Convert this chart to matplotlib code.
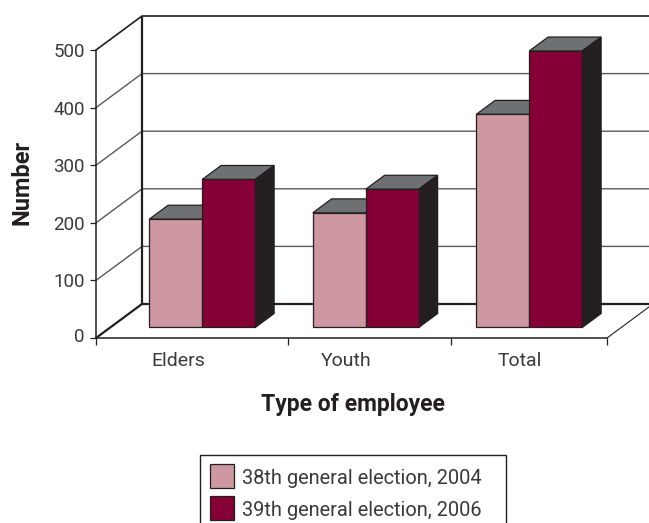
#!/usr/bin/env python3

import matplotlib
matplotlib.use("Agg")
import matplotlib.pyplot as plt
from matplotlib.patches import Rectangle
from matplotlib.transforms import Affine2D

plt.rcParams["font.family"] = ["Roboto", "DejaVu Sans"]

categories = ["Elders", "Youth", "Total"]
series_names = ["38th general election, 2004", "39th general election, 2006"]
values_2004 = [188, 199, 370]
values_2006 = [257, 240, 480]
y_ticks = [0, 100, 200, 300, 400, 500]

FRONT_COLORS = ["#CE98A3", "#850034"]
TOP_COLOR = "#6E7072"
SIDE_COLOR = "#231F20"
LINE_COLOR = "#231F20"
GRID_COLOR = "#58595B"
TEXT_COLOR = "#3A3A3A"

W, H = 649, 523
LEFT, RIGHT, BOTTOM, TOP = 96, 607, 338, 50
PX_PER_CAT = 163.5
PX_PER_UNIT = (BOTTOM - TOP) / 500

# floor depth, in data units
DX = 46 / PX_PER_CAT
DY = 34 / PX_PER_UNIT
BAR_W = 53 / PX_PER_CAT
Z0, Z1 = 0.31, 0.72  # front and back of the bars, as a share of the floor depth


def project(x, y, z):
    return x + z * DX, y + z * DY


def face(ax, pts, color, zorder):
    xs, ys = zip(*[project(*p) for p in pts])
    ax.fill(xs, ys, facecolor=color, edgecolor=LINE_COLOR, linewidth=0.9,
            zorder=zorder, clip_on=False)


def line3d(ax, pts, color=LINE_COLOR, lw=1.0, zorder=1):
    xs, ys = zip(*[project(*p) for p in pts])
    ax.plot(xs, ys, color=color, linewidth=lw, zorder=zorder, clip_on=False,
            solid_capstyle="butt")


def draw_bar(ax, x0, value, color, zorder):
    x1 = x0 + BAR_W
    face(ax, [(x0, value, Z0), (x1, value, Z0), (x1, value, Z1), (x0, value, Z1)], TOP_COLOR, zorder)
    face(ax, [(x1, 0, Z0), (x1, value, Z0), (x1, value, Z1), (x1, 0, Z1)], SIDE_COLOR, zorder)
    ax.bar(project(x0, 0, Z0)[0], value, BAR_W, bottom=Z0 * DY, align="edge",
           color=color, edgecolor=LINE_COLOR, linewidth=0.9, zorder=zorder + 0.5)


def main() -> None:
    fig = plt.figure(figsize=(W / 100, H / 100), dpi=100)
    ax = fig.add_axes([LEFT / W, 1 - BOTTOM / H, (RIGHT - LEFT) / W, (BOTTOM - TOP) / H])

    x_left = (LEFT - 188) / PX_PER_CAT
    x_right = (RIGHT - 188) / PX_PER_CAT
    ax.set_xlim(x_left, x_right)
    ax.set_ylim(0, 500)
    ax.patch.set_visible(False)

    # back wall and floor
    x_far = x_right + 0.1
    for t in y_ticks[1:-1]:
        line3d(ax, [(x_left, t, 0), (x_left, t, 1), (x_far, t, 1)], GRID_COLOR, 1.0)
    line3d(ax, [(x_left, 500, 0), (x_left, 500, 1), (x_far, 500, 1)], LINE_COLOR, 1.2)
    line3d(ax, [(x_left, 0, 0), (x_left, 0, 1), (x_far, 0, 1)], LINE_COLOR, 1.6)
    line3d(ax, [(x_left, 0, 1), (x_left, 500, 1)], LINE_COLOR, 1.6)
    line3d(ax, [(x_right, 0, 0), (x_right, 0, 1)], LINE_COLOR, 0.8)

    for i in range(len(categories)):
        draw_bar(ax, i - BAR_W, values_2004[i], FRONT_COLORS[0], 3)
        draw_bar(ax, i, values_2006[i], FRONT_COLORS[1], 4)

    for side in ["top", "right"]:
        ax.spines[side].set_visible(False)
    for side in ["left", "bottom"]:
        ax.spines[side].set_color(LINE_COLOR)
        ax.spines[side].set_linewidth(1.1)

    ax.set_yticks(y_ticks)
    ax.tick_params(axis="y", length=4, width=0.9, color=LINE_COLOR, pad=4,
                   labelsize=13.5, labelcolor=TEXT_COLOR)
    # the 0 label sits a little above its tick in the original
    zero = ax.get_yticklabels()[0]
    zero.set_transform(zero.get_transform() + Affine2D().translate(0, 3))

    # ticks sit on the category borders, labels between them
    ax.set_xticks([x_left, 0.612, 1.609, x_right])
    ax.set_xticks([-0.06, 0.97, 2.03], labels=categories, minor=True)
    ax.tick_params(axis="x", which="major", length=5, width=0.9, color=LINE_COLOR, labelbottom=False)
    ax.tick_params(axis="x", which="minor", length=0, pad=10, labelsize=14, labelcolor=TEXT_COLOR)

    fig.text(22 / W, 1 - 182 / H, "Number", rotation=90, ha="center", va="center",
             fontsize=17, fontweight="bold", color=LINE_COLOR)
    fig.text(352.5 / W, 1 - 404 / H, "Type of employee", ha="center", va="center",
             fontsize=16.5, fontweight="bold", color=LINE_COLOR)

    # legend box runs off the bottom of the figure
    fig.add_artist(Rectangle((199.5 / W, -0.02), 306 / W, 1 - 454.5 / H + 0.02,
                             transform=fig.transFigure, facecolor="white",
                             edgecolor=LINE_COLOR, linewidth=1.0))
    for i, name in enumerate(series_names):
        top = 464 + i * 32
        fig.add_artist(Rectangle((209.5 / W, 1 - (top + 24) / H), 24 / W, 24 / H,
                                 transform=fig.transFigure, facecolor=FRONT_COLORS[i],
                                 edgecolor=LINE_COLOR, linewidth=0.9))
        fig.text(242 / W, 1 - (top + 14) / H, name, ha="left", va="center",
                 fontsize=14.4, color=TEXT_COLOR)

    fig.savefig("out.png", dpi=100)
    plt.close(fig)


if __name__ == "__main__":
    main()
